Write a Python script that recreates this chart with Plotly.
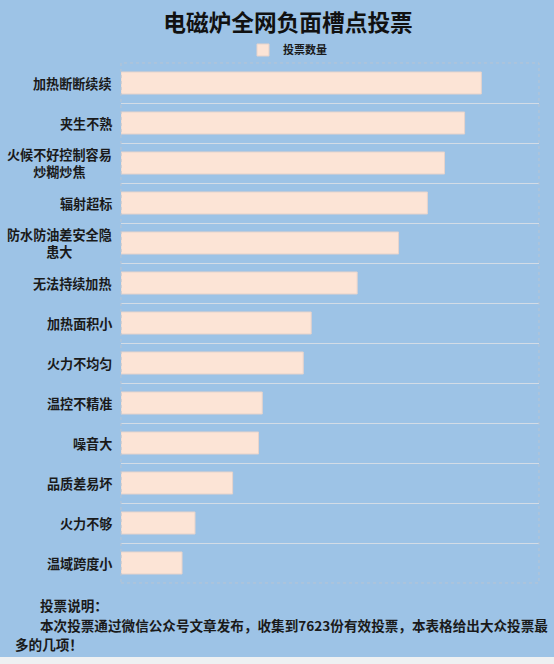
import plotly.graph_objects as go

categories = ["加热断断续续", "夹生不熟", "火候不好控制容易<br>炒糊炒焦", "辐射超标",
              "防水防油差安全隐<br>患大", "无法持续加热", "加热面积小", "火力不均匀",
              "温控不精准", "噪音大", "品质差易坏", "火力不够", "温域跨度小"]
votes = [862, 822, 774, 733, 664, 565, 455, 436, 338, 329, 267, 177, 146]
series_name = "投票数量"
title_text = "电磁炉全网负面槽点投票"
note_lines = ["投票说明：",
              "本次投票通过微信公众号文章发布，收集到7623份有效投票，本表格给出大众投票最",
              "多的几项！"]

W, H = 554, 664
L, R, T, B = 121, 15, 63, 81
pw, ph = W - L - R, H - T - B

def px(x):
    return (x - L) / pw

def py(y):
    return (H - B - y) / ph

FONT = "Noto Sans CJK SC"
BG = "#9DC3E6"

fig = go.Figure()
fig.add_trace(go.Bar(
    x=votes, y=categories, orientation="h", name=series_name,
    marker=dict(color="#FCE4D6", line=dict(color="#E6D3CB", width=1)),
    showlegend=True, hoverinfo="x+y",
))

annotations = []
for c in categories:
    annotations.append(dict(
        x=0, xref="paper", y=c, yref="y", xshift=-7, text=c, showarrow=False,
        xanchor="right", yanchor="middle", align="center",
        font=dict(family=FONT, size=13.1, color="#1a1a1a", weight="bold"),
    ))

note_pos = [(38, 604.5), (38, 624.5), (13, 643.5)]
for (nx, ny), t in zip(note_pos, note_lines):
    annotations.append(dict(
        x=px(nx), xref="paper", y=py(ny), yref="paper", text=t, showarrow=False,
        xanchor="left", yanchor="middle", align="left",
        font=dict(family=FONT, size=13.6, color="#1a1a1a", weight="bold"),
    ))

shapes = [
    dict(type="rect", xref="paper", yref="paper", x0=px(0), x1=px(W), y0=py(657), y1=py(0),
         fillcolor=BG, line=dict(width=0), layer="below"),
    dict(type="rect", xref="paper", yref="paper", x0=0, x1=1, y0=0, y1=1,
         line=dict(color="#B8C4D2", width=1, dash="dot"), layer="above"),
]

fig.update_layout(
    width=W, height=H, autosize=False,
    margin=dict(l=L, r=R, t=T, b=B, pad=0),
    paper_bgcolor="#EEF0F2", plot_bgcolor=BG,
    bargap=0.45,
    title=dict(text=title_text, x=288 / W, xref="container", xanchor="center",
               y=1 - 23 / H, yref="container", yanchor="middle",
               font=dict(family=FONT, size=22.7, color="#111111", weight="bold")),
    legend=dict(orientation="h", x=px(243), xanchor="left", y=py(50), yanchor="middle",
                font=dict(family=FONT, size=11, color="#1a1a1a", weight="bold"),
                bgcolor="rgba(0,0,0,0)", itemwidth=30),
    xaxis=dict(range=[0, 1000], showgrid=False, showticklabels=False, zeroline=False,
               showline=False, ticks="", fixedrange=True),
    yaxis=dict(autorange="reversed", type="category", tickson="boundaries",
               showgrid=True, gridcolor="#D3DCE6", gridwidth=1,
               showticklabels=False, ticks="", showline=False, zeroline=False),
    annotations=annotations,
    shapes=shapes,
    font=dict(family=FONT),
)

fig.write_html("out.html", config={"displayModeBar": False},
               post_script="document.body.style.margin='0';document.body.style.overflow='hidden';")
